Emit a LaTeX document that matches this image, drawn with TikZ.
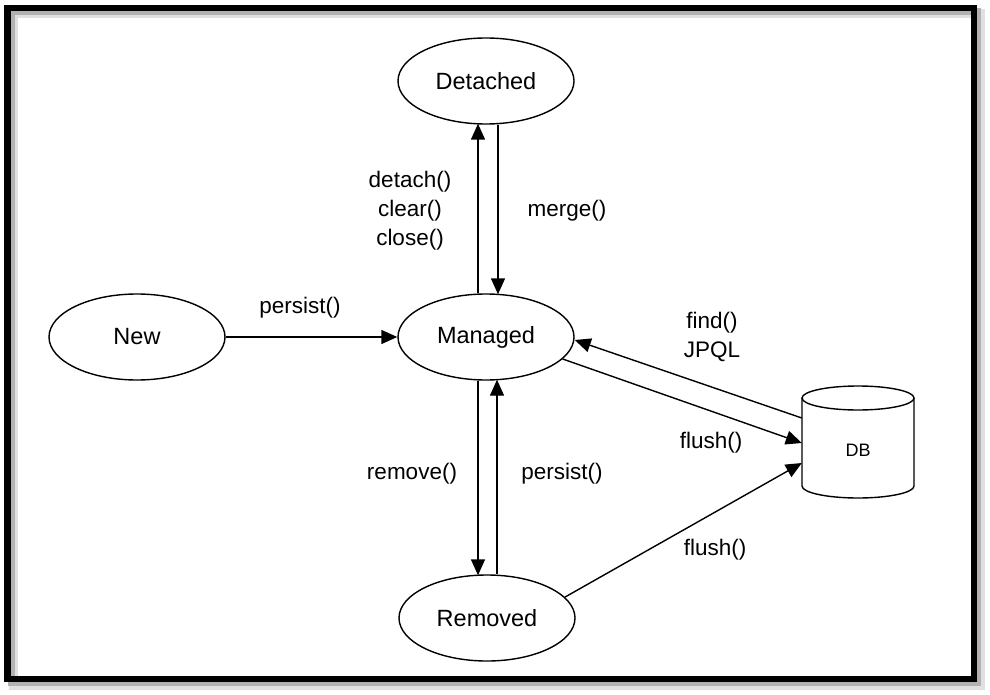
\documentclass[tikz,border=0pt]{standalone}
\usepackage{fontspec}
\setmainfont{Liberation Sans}
\usetikzlibrary{shapes.geometric,arrows.meta,calc}
\begin{document}
\begin{tikzpicture}[x=1pt,y=-1pt,
  state/.style={ellipse,draw,line width=1.4pt,minimum width=176pt,minimum height=86pt,inner sep=0pt,font=\fontsize{23.5}{27}\selectfont},
  lbl/.style={font=\fontsize{22.5}{29}\selectfont,align=center,inner sep=0pt},
  conn/.style={line width=1.4pt,-{Triangle[length=16pt,width=14pt]}}]
\useasboundingbox (0,0) rectangle (990,695);
% frame with shadow
\draw[line width=9pt,black!12] (13,14) rectangle (980,685);
\draw[line width=7pt,black!30] (11,12) rectangle (977,682);
\draw[line width=6.5pt,black] (7.5,8) rectangle (974,679);
% states
\node[state] (detached) at (486,81) {Detached};
\node[state] (managed) at (486,337) {Managed};
\node[state] (new) at (137,337) {New};
\node[state] (removed) at (487,618) {Removed};
% DB cylinder
\node[minimum width=112pt,minimum height=112pt,inner sep=0pt] (db) at (858,442) {};
\draw[line width=1.4pt,fill=white] (802,398) -- (802,486) arc[start angle=180,end angle=360,x radius=56pt,y radius=12pt] -- (914,398);
\draw[line width=1.4pt] (858,398) ellipse[x radius=56pt,y radius=12pt];
\node[font=\fontsize{18}{20}\selectfont] at (858,450) {DB};
% connectors
\draw[conn] (new.east) -- (managed.west);
\draw[conn] ([xshift=-8pt]managed.north) -- ([xshift=-8pt,yshift=1pt]detached.south);
\draw[conn] ([xshift=12pt]detached.south) -- ([xshift=12pt,yshift=-1pt]managed.north);
\draw[conn] ([xshift=-8pt]managed.south) -- ([xshift=-9pt,yshift=-1pt]removed.north);
\draw[conn] ([xshift=10pt]removed.north) -- ([xshift=11pt,yshift=1pt]managed.south);
\draw[conn] ([yshift=24pt]db.west) -- ([yshift=-3pt]managed.east);
\draw[conn] (managed.-16) -- ([yshift=-1pt]db.west);
\draw[conn] (removed.15) -- ([yshift=-21pt]db.west);
% labels
\node[lbl] at (300,308) {persist()};
\node[lbl] at (410,211) {detach()\\clear()\\close()};
\node[lbl] at (567,211) {merge()};
\node[lbl] at (712,337) {find()\\JPQL};
\node[lbl] at (711,443) {flush()};
\node[lbl] at (412,474) {remove()};
\node[lbl] at (562,474) {persist()};
\node[lbl] at (715,550) {flush()};
\end{tikzpicture}
\end{document}
